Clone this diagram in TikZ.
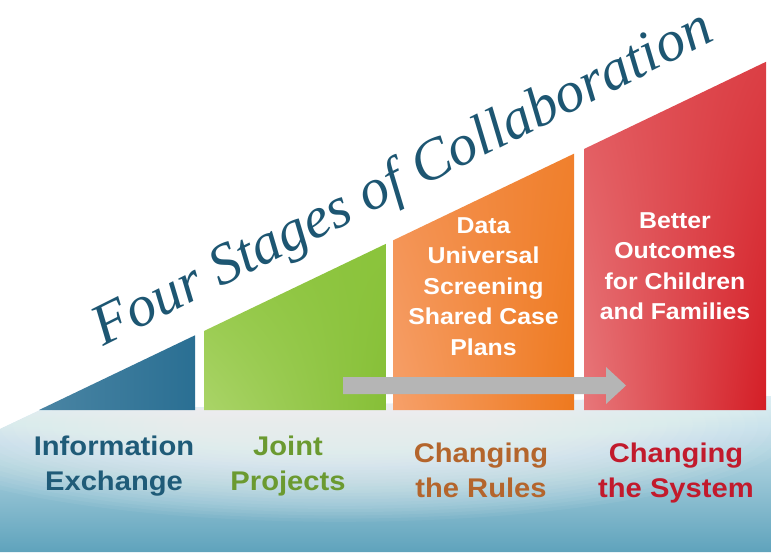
\documentclass[tikz,border=0pt]{standalone}
\usepackage{fontspec}
\setmainfont{Liberation Sans}
\newfontfamily\stagefont{Liberation Sans}[FakeStretch=1.08]
\newfontfamily\titlefont{Liberation Serif}
\usetikzlibrary{calc, positioning, shadings}
\definecolor{infoblue}{HTML}{2A6F93}
\definecolor{infotext}{HTML}{1F5B78}
\definecolor{jointtext}{HTML}{6B9A30}
\definecolor{rulestext}{HTML}{B4652C}
\definecolor{systemtext}{HTML}{C21A2C}
\definecolor{titleteal}{HTML}{1D5672}
\definecolor{wavetop}{HTML}{DCEEF4}
\definecolor{wavebottom}{HTML}{5FA3BC}
\definecolor{arrowgray}{HTML}{B5B5B5}
\definecolor{greenul}{HTML}{8FC641}
\definecolor{greenur}{HTML}{8BC43C}
\definecolor{greenll}{HTML}{AAD468}
\definecolor{greenlr}{HTML}{86BF37}
\definecolor{orangeul}{HTML}{F3904F}
\definecolor{orangeur}{HTML}{F0802D}
\definecolor{orangell}{HTML}{F6A06A}
\definecolor{orangelr}{HTML}{EE791E}
\definecolor{redul}{HTML}{E2585D}
\definecolor{redur}{HTML}{DB3F45}
\definecolor{redll}{HTML}{E7777A}
\definecolor{redlr}{HTML}{D41E26}
\tikzset{
    stagelabel/.style = {draw=none, inner sep=0em, align=center, anchor=north,
      font=\fontsize{27}{35}\selectfont\stagefont\bfseries},
    boxtext/.style = {draw=none, inner sep=0em, align=center, anchor=north, text=white,
      font=\fontsize{23}{30.5}\selectfont\stagefont\bfseries},
    titlenode/.style = {draw=none, inner sep=0em, anchor=base, text=titleteal,
      font=\fontsize{58}{60}\selectfont\titlefont\itshape},
    stagebox/.style = {draw=none}
}
\begin{document}
\begin{tikzpicture}[x=1pt, y=-1pt]
    \useasboundingbox (0,0) rectangle (771,552);
    \fill[white] (0,0) rectangle (771,552);

    \shade[top color=wavetop, bottom color=wavebottom]
        (0,429) -- (39,410.5) -- (771,396) -- (771,552) -- (0,552) -- cycle;
    \begin{scope}
        \clip (0,429) -- (39,410.5) -- (771,396) -- (771,552) -- (0,552) -- cycle;
        \foreach \k in {1,...,24}
            \fill[white, opacity=0.05] (340,425) ellipse ({(470-13*\k)*1pt} and {(100-3.2*\k)*1pt});
    \end{scope}

    \coordinate (infoleft) at (39,410);
    \coordinate (infotop) at (195,335.3);
    \coordinate (inforight) at (195,410);

    \shade[stagebox, left color=infoblue!85!white, right color=infoblue]
        (infoleft) -- (infotop) -- (inforight) -- cycle;
    \shade[stagebox, upper left=greenul, upper right=greenur,
        lower left=greenll, lower right=greenlr]
        (204,410) -- (204,331) -- (386,243.8) -- (386,410) -- cycle;
    \shade[stagebox, upper left=orangeul, upper right=orangeur,
        lower left=orangell, lower right=orangelr]
        (393,410) -- (393,240.4) -- (574,153.7) -- (574,410) -- cycle;
    \shade[stagebox, upper left=redul, upper right=redur,
        lower left=redll, lower right=redlr]
        (584,410) -- (584,149) -- (766,61.8) -- (766,410) -- cycle;

    \coordinate (arrowtail) at (343,385.5);
    \coordinate (arrowtip) at (626,385.5);
    \fill[arrowgray] ($(arrowtail)+(0,-8.5)$) -- ($(arrowtip)+(-20,-8.5)$) -- ($(arrowtip)+(-20,-18.5)$)
        -- (arrowtip) -- ($(arrowtip)+(-20,18.5)$) -- ($(arrowtip)+(-20,8.5)$)
        -- ($(arrowtail)+(0,8.5)$) -- cycle;

    \node [name=title, titlenode, rotate=26.6] at (410,193) {Four Stages of Collaboration};

    \node [name=rulesbox, boxtext] at (483.5,217) {Data\\Universal\\Screening\\Shared Case\\Plans};
    \node [name=systembox, boxtext] at (675,212) {Better\\Outcomes\\for Children\\and Families};

    \node [name=info, stagelabel, text=infotext] at (114,436) {Information\\Exchange};
    \node [name=joint, stagelabel, text=jointtext] at (288,436) {Joint\\Projects};
    \node [name=rules, stagelabel, text=rulestext] at (481,443) {Changing\\the Rules};
    \node [name=system, stagelabel, text=systemtext] at (676,443) {Changing\\the System};
\end{tikzpicture}
\end{document}
